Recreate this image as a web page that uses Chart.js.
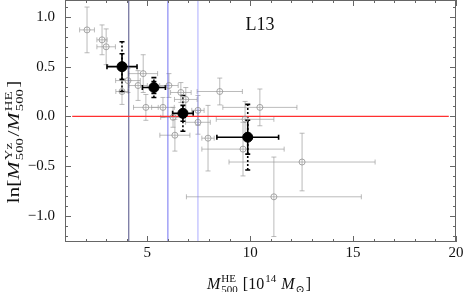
<!DOCTYPE html>
<html>
<head>
<meta charset="utf-8">
<script src="https://cdn.jsdelivr.net/npm/chart.js@4.4.0/dist/chart.umd.min.js"></script>
<style>
  html, body { margin: 0; padding: 0; background: #fff; }
  #diagram { width: 463px; height: 292px; }
</style>
</head>
<body>
<div id="diagram"><canvas id="chart"></canvas></div>
<script>
// individual clusters (grey)
const grayX    = [2.07, 2.80, 3.00, 4.06, 3.77, 4.80, 4.55, 4.93, 6.05, 6.63, 6.87, 5.76, 8.52, 7.46, 6.25, 7.46, 10.47, 9.75, 7.95, 6.34, 9.65, 12.52, 11.15];
const grayY    = [0.87, 0.77, 0.70, 0.36, 0.25, 0.43, 0.31, 0.09, 0.31, 0.24, 0.17, 0.09, 0.25, 0.06, -0.01, -0.06, 0.09, -0.03, -0.22, -0.19, -0.33, -0.46, -0.81];
const grayXErr = [0.36, 0.25, 0.45, 0.60, 0.30, 0.70, 0.45, 0.60, 0.45, 0.50, 0.55, 0.55, 1.10, 0.30, 0.60, 0.60, 1.80, 1.40, 0.30, 0.73, 2.00, 3.55, 4.25];
const grayYErr = [0.23, 0.15, 0.18, 0.12, 0.13, 0.19, 0.15, 0.13, 0.12, 0.10, 0.12, 0.10, 0.135, 0.15, 0.10, 0.12, 0.185, 0.18, 0.33, 0.16, 0.27, 0.29, 0.40];

// binned means (black)
const blackX       = [3.77, 5.32, 6.73, 9.88];
const blackY       = [0.50, 0.29, 0.03, -0.21];
const blackXErr    = [0.73, 0.56, 0.50, 1.50];
const blackYErrIn  = [0.13, 0.06, 0.08, 0.17];
const blackYErrOut = [0.25, 0.10, 0.18, 0.33];

// bin edges and reference line
const binEdges   = [4.1, 6.0, 7.46];
const binColors  = ['rgba(60,60,120,0.9)', 'rgba(90,90,240,0.85)', 'rgba(120,120,255,0.6)'];
const zeroLineX  = [1.35, 19.65];

const xTicks = [5, 10, 15, 20];
const yTicks = [-1.0, -0.5, 0.0, 0.5, 1.0];
const xRange = [1, 20];
const yRange = [-1.265, 1.171];

const serif = '"Liberation Serif", "DejaVu Serif", serif';

function drawErr(ctx, xs, ys, x, y, xe, ye, cap, dashedYe) {
    const px = xs.getPixelForValue(x), py = ys.getPixelForValue(y);
    const x0 = xs.getPixelForValue(x - xe), x1 = xs.getPixelForValue(x + xe);
    const y0 = ys.getPixelForValue(y - ye), y1 = ys.getPixelForValue(y + ye);
    ctx.beginPath();
    ctx.moveTo(x0, py); ctx.lineTo(x1, py);
    ctx.moveTo(x0, py - cap); ctx.lineTo(x0, py + cap);
    ctx.moveTo(x1, py - cap); ctx.lineTo(x1, py + cap);
    ctx.moveTo(px, y0); ctx.lineTo(px, y1);
    ctx.moveTo(px - cap, y0); ctx.lineTo(px + cap, y0);
    ctx.moveTo(px - cap, y1); ctx.lineTo(px + cap, y1);
    ctx.stroke();
    if (dashedYe) {
        const d0 = ys.getPixelForValue(y - dashedYe), d1 = ys.getPixelForValue(y + dashedYe);
        ctx.save();
        ctx.setLineDash([2, 2]);
        ctx.beginPath();
        ctx.moveTo(px, d0); ctx.lineTo(px, d1);
        ctx.stroke();
        ctx.setLineDash([]);
        ctx.beginPath();
        ctx.moveTo(px - cap, d0); ctx.lineTo(px + cap, d0);
        ctx.moveTo(px - cap, d1); ctx.lineTo(px + cap, d1);
        ctx.stroke();
        ctx.restore();
    }
}

// text with stacked super/subscripts
function richParts(ctx, parts, draw, x, y, size) {
    const small = Math.round(size * 0.7);
    let cx = x;
    parts.forEach(p => {
        if (p.t !== undefined) {
            ctx.font = (p.i ? 'italic ' : '') + size + 'px ' + serif;
            if (draw) ctx.fillText(p.t, cx, y);
            cx += ctx.measureText(p.t).width;
        } else {
            ctx.font = small + 'px ' + serif;
            const w1 = p.sup ? ctx.measureText(p.sup).width : 0;
            const w2 = p.sub ? ctx.measureText(p.sub).width : 0;
            if (draw) {
                if (p.sup) ctx.fillText(p.sup, cx + 1, y - size * 0.45);
                if (p.sub) ctx.fillText(p.sub, cx + 1, y + size * 0.28);
            }
            cx += Math.max(w1, w2) + 2;
        }
    });
    return cx - x;
}

const errorBars = {
    id: 'errorBars',
    beforeDatasetsDraw(chart) {
        const { ctx, chartArea: a, scales: { x, y } } = chart;
        ctx.save();
        ctx.beginPath();
        ctx.rect(a.left, a.top, a.right - a.left, a.bottom - a.top);
        ctx.clip();
        ctx.strokeStyle = 'rgba(150,150,150,0.65)';
        ctx.lineWidth = 1;
        grayX.forEach((v, i) => drawErr(ctx, x, y, v, grayY[i], grayXErr[i], grayYErr[i], 2.5));
        ctx.strokeStyle = '#000';
        ctx.lineWidth = 1.6;
        blackX.forEach((v, i) => drawErr(ctx, x, y, v, blackY[i], blackXErr[i], blackYErrIn[i], 2.5, blackYErrOut[i]));
        ctx.restore();
    }
};

const frame = {
    id: 'frame',
    afterDraw(chart) {
        const { ctx, chartArea: a, scales: { x, y } } = chart;
        ctx.save();
        ctx.strokeStyle = '#666';
        ctx.lineWidth = 1;
        ctx.strokeRect(a.left + 0.5, a.top + 0.5, a.right - a.left - 1, a.bottom - a.top - 1);
        ctx.beginPath();
        for (let v = Math.ceil(xRange[0]); v <= xRange[1]; v++) {
            const p = Math.round(x.getPixelForValue(v)) + 0.5;
            const len = v % 5 === 0 ? 6 : 3;
            ctx.moveTo(p, a.bottom); ctx.lineTo(p, a.bottom - len);
            ctx.moveTo(p, a.top); ctx.lineTo(p, a.top + len);
        }
        for (let k = -12; k <= 11; k++) {
            const v = k / 10;
            const p = Math.round(y.getPixelForValue(v)) + 0.5;
            const len = k % 5 === 0 ? 6 : 3;
            ctx.moveTo(a.left, p); ctx.lineTo(a.left + len, p);
            ctx.moveTo(a.right, p); ctx.lineTo(a.right - len, p);
        }
        ctx.stroke();

        ctx.fillStyle = '#111';
        ctx.textBaseline = 'alphabetic';
        ctx.font = '18px ' + serif;
        ctx.textAlign = 'center';
        ctx.fillText('L13', x.getPixelForValue(10.47), y.getPixelForValue(0.87));
        ctx.textAlign = 'left';

        const xt = [{ t: 'M', i: true }, { sup: 'HE', sub: '500' }, { t: ' [10' }, { sup: '14' }, { t: ' ' }, { t: 'M', i: true }, { sub: '⊙' }, { t: ']' }];
        const wx = richParts(ctx, xt, false, 0, 0, 16);
        richParts(ctx, xt, true, 259 - wx / 2, 289, 16);

        const yt = [{ t: 'ln[' }, { t: 'M', i: true }, { sup: 'Yz', sub: '500' }, { t: '/' }, { t: 'M', i: true }, { sup: 'HE', sub: '500' }, { t: ']' }];
        const wy = richParts(ctx, yt, false, 0, 0, 16);
        ctx.translate(19, 142);
        ctx.rotate(-Math.PI / 2);
        ctx.scale(1.35, 1);
        richParts(ctx, yt, true, -wy / 2, 0, 16);
        ctx.restore();
    }
};

const datasets = [
    {
        label: 'means',
        data: blackX.map((v, i) => ({ x: v, y: blackY[i] })),
        pointRadius: 5, pointBackgroundColor: '#000', pointBorderColor: '#000', order: 0
    },
    {
        label: 'clusters',
        data: grayX.map((v, i) => ({ x: v, y: grayY[i] })),
        pointRadius: 3, pointBorderWidth: 1,
        pointBackgroundColor: 'rgba(255,255,255,0)', pointBorderColor: 'rgba(140,140,140,0.75)', order: 1
    },
    {
        type: 'line', label: 'zero',
        data: zeroLineX.map(v => ({ x: v, y: 0 })),
        borderColor: '#ff3030', borderWidth: 1.2, pointRadius: 0, order: 2
    }
];
binEdges.forEach((v, i) => datasets.push({
    type: 'line', label: 'edge' + i,
    data: yRange.map(w => ({ x: v, y: w })),
    borderColor: binColors[i], borderWidth: 1, pointRadius: 0, order: 3
}));

new Chart(document.getElementById('chart'), {
    type: 'scatter',
    data: { datasets },
    options: {
        responsive: true,
        maintainAspectRatio: false,
        animation: false,
        layout: { autoPadding: false, padding: { top: 0, right: 7, left: 0, bottom: 0 } },
        plugins: { legend: { display: false }, tooltip: { enabled: false } },
        scales: {
            x: {
                type: 'linear', min: xRange[0], max: xRange[1],
                afterBuildTicks: s => { s.ticks = xTicks.map(v => ({ value: v })); },
                afterFit: s => { s.height = 50; s.paddingLeft = 0; s.paddingRight = 7; },
                grid: { display: false, drawTicks: false },
                border: { display: false },
                ticks: { font: { family: serif, size: 15 }, color: '#111', padding: 2, maxRotation: 0, autoSkip: false }
            },
            y: {
                type: 'linear', min: yRange[0], max: yRange[1],
                afterBuildTicks: s => { s.ticks = yTicks.map(v => ({ value: v })); },
                afterFit: s => { s.width = 65; s.paddingTop = 0; s.paddingBottom = 0; },
                grid: { display: false, drawTicks: false },
                border: { display: false },
                ticks: {
                    font: { family: serif, size: 15 }, color: '#111', padding: 10,
                    callback: v => (v < 0 ? '\u2212' : '') + Math.abs(v).toFixed(1)
                }
            }
        }
    },
    plugins: [errorBars, frame]
});
</script>
</body>
</html>
